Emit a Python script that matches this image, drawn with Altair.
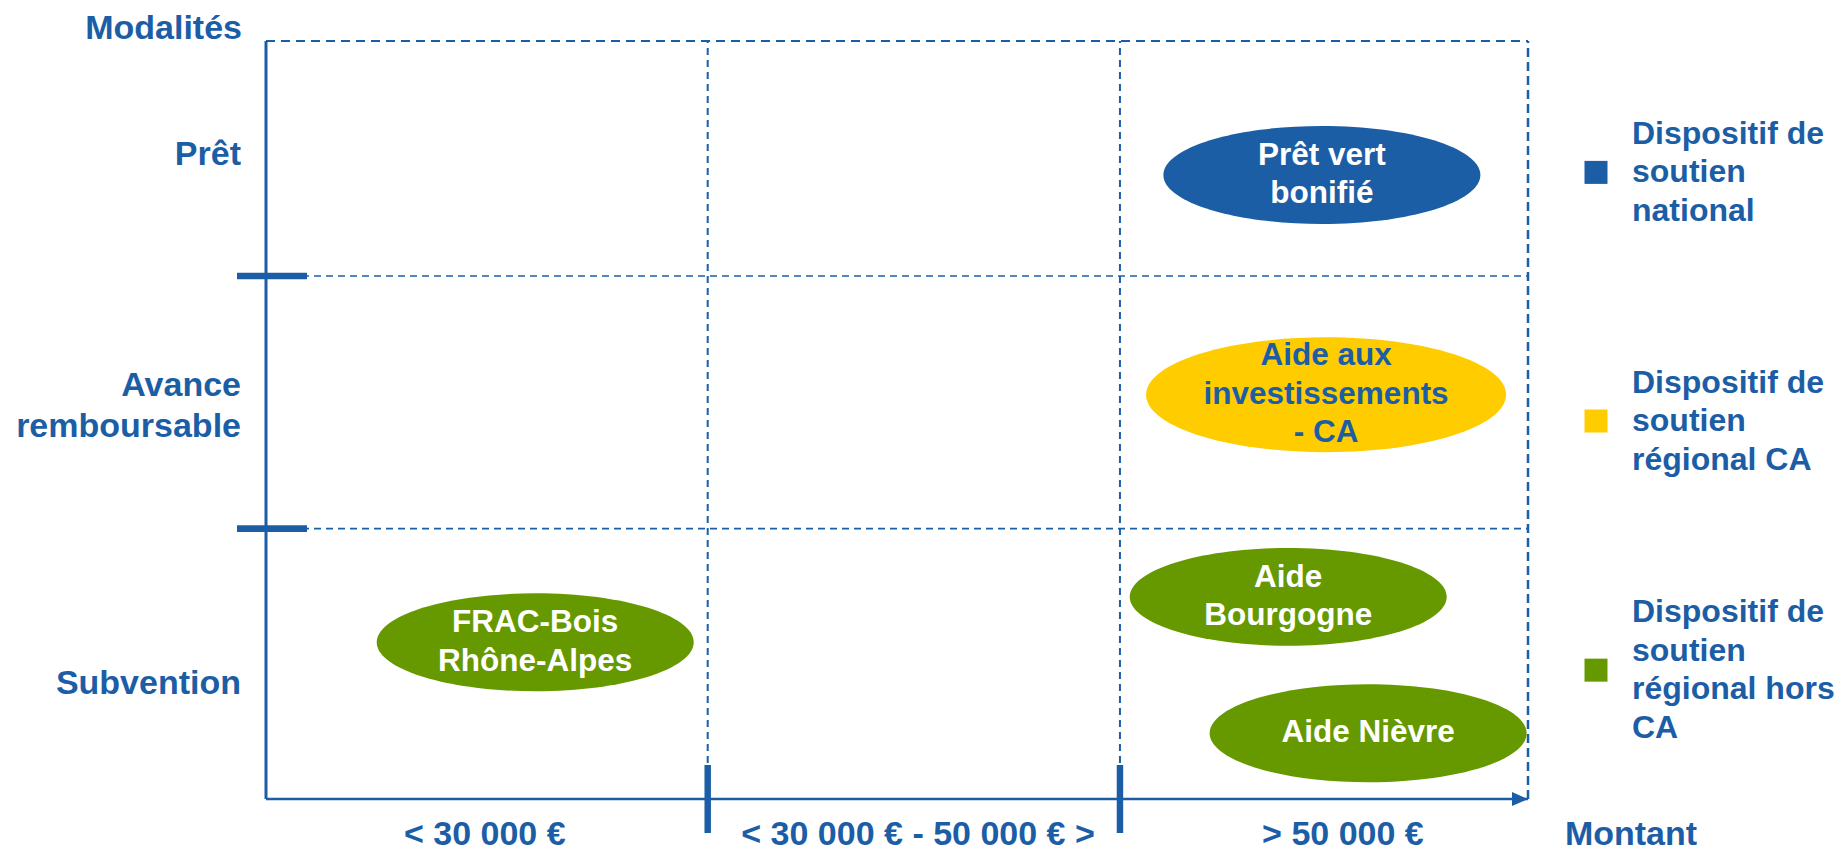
import altair as alt
import pandas as pd

# ---------------- données ----------------
montants = ["< 30 000 €", "< 30 000 € - 50 000 € >", "> 50 000 €"]
montant_limites = [0.0, 1.05, 2.03, 3.0]
montant_centres = [0.52, 1.55, 2.56]

modalites = ["Prêt", "Avance\nremboursable", "Subvention"]
modalite_limites = [0.0, 1.07, 2.07, 3.0]
modalite_centres = [2.547, 1.555, 0.457]

dispositifs = ["Prêt vert\nbonifié", "Aide aux\ninvestissements\n- CA", "Aide\nBourgogne",
               "Aide Nièvre", "FRAC-Bois\nRhône-Alpes"]
dispositif_montant = [2.51, 2.52, 2.43, 2.62, 0.64]
dispositif_modalite = [2.47, 1.60, 0.80, 0.26, 0.62]
dispositif_type = ["national", "régional CA", "régional hors CA", "régional hors CA", "régional hors CA"]

types = ["national", "régional CA", "régional hors CA"]
type_libelles = ["Dispositif de\nsoutien\nnational",
                 "Dispositif de\nsoutien\nrégional CA",
                 "Dispositif de\nsoutien\nrégional hors\nCA"]
couleurs = ["#1C5EA6", "#FFCC00", "#669900"]
legende_y = [2.48, 1.496, 0.51]

titre_y = "Modalités"
titre_x = "Montant"

# ---------------- style ----------------
BLEU = "#1C5EA6"
FONT = "Liberation Sans"
W, H = 1262, 758

bas, haut = min(modalite_limites), max(modalite_limites)
gauche, droite = min(montant_limites), max(montant_limites)

sx = alt.Scale(domain=[gauche, droite], nice=False, zero=False)
sy = alt.Scale(domain=[bas, haut], nice=False, zero=False)


def X(f):
    return alt.X(f, type="quantitative", scale=sx, axis=None)


def Y(f):
    return alt.Y(f, type="quantitative", scale=sy, axis=None)


NB_LIGNES = "length(split(datum.libelle, '\\n'))"


def textes_centres(df, lh, encodage, **mark):
    """Texte multi-lignes centré verticalement : une couche par nombre de lignes."""
    couches = []
    for n in range(1, 5):
        couches.append(
            alt.Chart(df).transform_filter(f"{NB_LIGNES} == {n}")
            .mark_text(lineBreak="\n", lineHeight=lh, baseline="middle",
                       dy=-(n - 1) * lh / 2, **mark)
            .encode(**encodage)
        )
    return couches


couleur = alt.Color("categorie:N", scale=alt.Scale(domain=types, range=couleurs), legend=None)

ELLIPSE = "M-1,0 A1,0.309 0 1,1 1,0 A1,0.309 0 1,1 -1,0 Z"
ELLIPSE_G = "M-1,0 A1,0.319 0 1,1 1,0 A1,0.319 0 1,1 -1,0 Z"
FLECHE = "M-2,-0.875 L0,0 L-2,0.875 Z"
TICK_V = "M-0.095,-1 L0.095,-1 L0.095,1 L-0.095,1 Z"
TICK_H = "M-1,-0.095 L1,-0.095 L1,0.095 L-1,0.095 Z"

# ---------------- tables ----------------
v_int = pd.DataFrame({"x": montant_limites[1:-1], "y": bas, "y2": haut})
h_int = pd.DataFrame({"y": modalite_limites[1:-1], "x": gauche, "x2": droite})
bord_haut = pd.DataFrame({"y": [haut], "x": [gauche], "x2": [droite]})
bord_droit = pd.DataFrame({"x": [droite], "y": [bas], "y2": [haut]})
axe_y = pd.DataFrame({"x": [gauche], "y": [bas], "y2": [haut]})
axe_x = pd.DataFrame({"y": [bas], "x": [gauche], "x2": [droite]})
ticks_x = pd.DataFrame({"x": montant_limites[1:-1], "y": bas})
ticks_y = pd.DataFrame({"y": modalite_limites[1:-1], "x": gauche})
disp = pd.DataFrame({"libelle": dispositifs, "x": dispositif_montant,
                     "y": dispositif_modalite, "categorie": dispositif_type})
lab_x = pd.DataFrame({"libelle": montants, "x": montant_centres, "y": bas})
lab_y = pd.DataFrame({"libelle": modalites, "y": modalite_centres, "x": gauche})
leg = pd.DataFrame({"categorie": types, "libelle": type_libelles, "y": legende_y, "x": droite})
titres_y = pd.DataFrame({"libelle": [titre_y], "x": [gauche], "y": [haut]})
titres_x = pd.DataFrame({"libelle": [titre_x], "x": [droite], "y": [bas]})

# ---------------- couches ----------------
l_v_int = alt.Chart(v_int).mark_rule(color=BLEU, strokeWidth=2, strokeDash=[7, 5]).encode(
    x=X("x"), y=Y("y"), y2="y2")
l_h_int = alt.Chart(h_int).mark_rule(color=BLEU, strokeWidth=1.6, strokeDash=[7, 5]).encode(
    x=X("x"), x2="x2", y=Y("y"))
l_haut = alt.Chart(bord_haut).mark_rule(color=BLEU, strokeWidth=2.2, strokeDash=[9, 6]).encode(
    x=X("x"), x2="x2", y=Y("y"))
l_droit = alt.Chart(bord_droit).mark_rule(color=BLEU, strokeWidth=2.5, strokeDash=[9, 5]).encode(
    x=X("x"), y=Y("y"), y2="y2")
l_axe_y = alt.Chart(axe_y).mark_rule(color=BLEU, strokeWidth=3).encode(
    x=X("x"), y=Y("y"), y2="y2")
l_axe_x = alt.Chart(axe_x).mark_rule(color=BLEU, strokeWidth=2.5).encode(
    x=X("x"), x2="x2", y=Y("y"))
l_fleche = alt.Chart(axe_x).mark_point(shape=FLECHE, size=256, filled=True, opacity=1,
                                       color=BLEU, strokeWidth=0).encode(x=X("x2"), y=Y("y"))
l_ticks_x = alt.Chart(ticks_x).mark_point(shape=TICK_V, size=68 * 68, filled=True, opacity=1,
                                          color=BLEU, strokeWidth=0).encode(x=X("x"), y=Y("y"))
l_ticks_y = alt.Chart(ticks_y).mark_point(shape=TICK_H, size=70 * 70, filled=True, opacity=1,
                                          color=BLEU, strokeWidth=0, xOffset=6).encode(x=X("x"), y=Y("y"))

est_ca = alt.datum.categorie == "régional CA"
l_ell = alt.Chart(disp).mark_point(filled=True, opacity=1, strokeWidth=0).encode(
    x=X("x"), y=Y("y"), color=couleur,
    shape=alt.condition(est_ca, alt.value(ELLIPSE_G), alt.value(ELLIPSE)),
    size=alt.condition(est_ca, alt.value(360 * 360), alt.value(317 * 317)),
)
l_ell_txt = textes_centres(
    disp, 38.5,
    dict(x=X("x"), y=Y("y"), text="libelle:N",
         color=alt.condition(est_ca, alt.value(BLEU), alt.value("white"))),
    font=FONT, fontSize=31.5, fontWeight="bold", align="center",
)

l_lab_x = alt.Chart(lab_x).mark_text(font=FONT, fontSize=34, fontWeight="bold", color=BLEU,
                                     align="center", baseline="middle", dy=36).encode(
    x=X("x"), y=Y("y"), text="libelle:N")
l_lab_y = textes_centres(
    lab_y, 41, dict(x=X("x"), y=Y("y"), text="libelle:N"),
    font=FONT, fontSize=34, fontWeight="bold", color=BLEU, align="right", dx=-25,
)
l_titre_y = alt.Chart(titres_y).mark_text(font=FONT, fontSize=34, fontWeight="bold", color=BLEU,
                                          align="right", baseline="middle", dx=-24, dy=-12).encode(
    x=X("x"), y=Y("y"), text="libelle:N")
l_titre_x = alt.Chart(titres_x).mark_text(font=FONT, fontSize=34, fontWeight="bold", color=BLEU,
                                          align="center", baseline="middle", dx=103, dy=36).encode(
    x=X("x"), y=Y("y"), text="libelle:N")

l_leg_sq = alt.Chart(leg).mark_point(shape="square", size=23 * 23, filled=True, opacity=1,
                                     strokeWidth=0, xOffset=68).encode(
    x=X("x"), y=Y("y"), color=couleur)
l_leg_txt = textes_centres(
    leg, 38.5, dict(x=X("x"), y=Y("y"), text="libelle:N"),
    font=FONT, fontSize=32, fontWeight="bold", color=BLEU, align="left", dx=104,
)

chart = alt.layer(
    l_v_int, l_h_int, l_haut, l_droit, l_axe_y, l_axe_x, l_fleche, l_ticks_x, l_ticks_y,
    l_ell, *l_ell_txt, l_lab_x, *l_lab_y, l_titre_y, l_titre_x, l_leg_sq, *l_leg_txt,
).properties(
    width=W, height=H,
    autosize=alt.AutoSizeParams(type="none"),
    padding={"left": 258, "top": 33, "right": 311, "bottom": 53},
).configure_view(stroke=None)

chart.save("out.html", embed_options={"renderer": "svg", "actions": False})
